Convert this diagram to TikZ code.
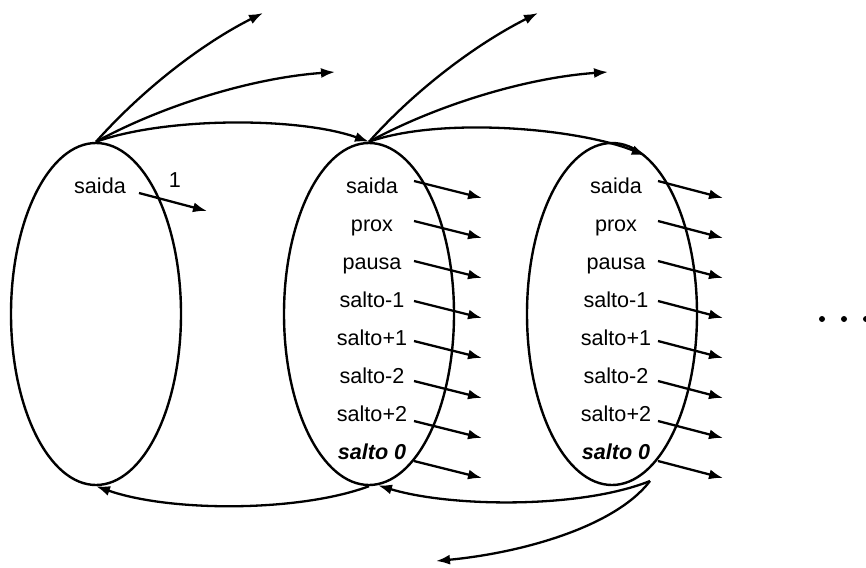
\documentclass[tikz,border=0pt]{standalone}
\usepackage{fontspec}
\setmainfont{Liberation Sans}
\usetikzlibrary{shapes.geometric, arrows.meta}

\begin{document}
\begin{tikzpicture}
    [
      x=0.5pt, y=-0.5pt,
      line width=1.15pt,
      >={Latex[length=7pt,width=5pt]},
      ring/.style={draw, ellipse, inner sep=0pt, minimum width=85pt,
        minimum height=171pt, line width=1.2pt},
      field/.style={anchor=base, inner sep=0pt, font=\fontsize{10.8}{13}\selectfont}
    ]
    \useasboundingbox (0,0) rectangle (866,567);
    % the three records
    \node [ring] (e1) at (96,314) {};
    \node [ring] (e2) at (369,314) {};
    \node [ring] (e3) at (612,314) {};
    % first record
    \node [field] (f1) at (100,193) {saida};
    \node [field] (one) at (175,187) {1};
    \coordinate (p1) at (139,193);
    \coordinate (q1) at (207,211);
    \draw [->] (p1) -- (q1);
    % fields of the next records
    \foreach \t [count=\i from 0] in {saida, prox, pausa, salto-1, salto+1,
        salto-2, salto+2, {\bfseries\itshape salto 0}} {
        \node [field] (f2-\i) at (372,193+38.1*\i) {\t};
        \node [field] (f3-\i) at (616,193+38.1*\i) {\t};
        \coordinate (p2-\i) at (414,181+40*\i);
        \coordinate (q2-\i) at (482,198+40*\i);
        \coordinate (p3-\i) at (658,181+40*\i);
        \coordinate (q3-\i) at (723,198+40*\i);
        \draw [->] (p2-\i) -- (q2-\i);
        \draw [->] (p3-\i) -- (q3-\i);
    }
    % free ends
    \coordinate (u1) at (263,13);
    \coordinate (v1) at (335,72);
    \coordinate (u2) at (538,13);
    \coordinate (v2) at (608,72);
    \coordinate (s3) at (650,481);
    \coordinate (w3) at (436,561);
    % links over the top
    \draw [->] (e1.north) .. controls +(49,-55) and +(-58,29) .. (u1);
    \draw [->] (e1.north) .. controls +(64,-35) and +(-85,6) .. (v1);
    \draw [->] (e1.north) .. controls +(70,-25) and +(-70,-25) .. (e2.north);
    \draw [->] (e2.north) .. controls +(49,-55) and +(-58,29) .. (u2);
    \draw [->] (e2.north) .. controls +(64,-35) and +(-85,6) .. (v2);
    \draw [->] (e2.north) .. controls +(70,-25) and +(-70,-28) .. (e3.78);
    % links underneath
    \draw [->] (e2.south) .. controls +(-70,26) and +(74,26) .. (e1.south);
    \draw [->] (s3) .. controls +(-70,28) and +(72,22) .. (e2.-87);
    \draw [->] (s3) .. controls +(-35,46) and +(85,-8) .. (w3);
    % more records
    \foreach \x in {822,844,866} {
        \fill (\x,319) circle (3);
    }
\end{tikzpicture}
\end{document}
